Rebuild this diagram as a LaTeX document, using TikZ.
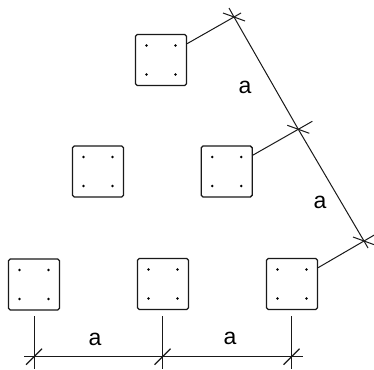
\documentclass[tikz,border=0pt]{standalone}
\usepackage{fontspec}
\setmainfont{Liberation Sans}
\tikzset{
  x=1pt,y=-1pt,
  column/.style={draw=black!90,line width=1.3pt,rounded corners=1.8pt,minimum size=51pt,inner sep=0pt,fill=white},
  dim/.style={draw=black!90,line width=1pt},
  lbl/.style={font=\fontsize{23}{23}\selectfont,text=black,inner sep=0pt},
  rebar/.style={fill=black}
}
\begin{document}
\begin{tikzpicture}
\useasboundingbox (0,0) rectangle (374,369);
\node[column] (s1) at (161,60) {};
\node[column] (s2) at (98,171.5) {};
\node[column] (s3) at (226.7,171.5) {};
\node[column] (s4) at (34,284.5) {};
\node[column] (s5) at (163,284) {};
\node[column] (s6) at (292,284) {};
\foreach \s in {s1,s2,s3,s4,s5,s6}{
  \foreach \dx in {-14.5,14.5}\foreach \dy in {-14.5,14.5}
    \fill[rebar] ([shift={(\dx,\dy)}]\s.center) circle (1.35pt);
}
% oblique dimension
\coordinate (c1) at (234,17);
\coordinate (c2) at (298.3,129.3);
\coordinate (c3) at (364,241);
\coordinate (c1a) at (229,8);
\coordinate (c3a) at (368,248);
\draw[dim] (c1a) -- (c1) -- (c2) -- (c3) -- (c3a);
\draw[dim] (s1.32) -- (c1) -- +(7,-4);
\draw[dim] (s3.32) -- (c2) -- +(14,-8);
\draw[dim] (s6.32) -- (c3) -- +(12,-7);
\foreach \c in {c1,c2,c3}
  \draw[dim] ([shift={(-11,-4)}]\c) -- ([shift={(11,4)}]\c);
% bottom dimension
\coordinate (d1) at (34,356.7);
\coordinate (d2) at (162.5,356.7);
\coordinate (d3) at (291.5,356.7);
\coordinate (d0) at (24,356.7);
\coordinate (d4) at (303,356.7);
\coordinate (e1) at (34,316);
\coordinate (e2) at (162.5,316);
\coordinate (e3) at (291.5,316);
\coordinate (f1) at (34,369);
\coordinate (f2) at (162.5,369);
\coordinate (f3) at (291.5,369);
\draw[dim] (d0) -- (d4);
\draw[dim] (e1) -- (f1);
\draw[dim] (e2) -- (f2);
\draw[dim] (e3) -- (f3);
\foreach \c in {d1,d2,d3}
  \draw[dim,line width=1.2pt] ([shift={(-8,8)}]\c) -- ([shift={(8,-8)}]\c);
\node[lbl] (a1) at (245,87) {a};
\node[lbl] (a2) at (320,202) {a};
\node[lbl] (a3) at (95,339) {a};
\node[lbl] (a4) at (230,338) {a};
\end{tikzpicture}
\end{document}
